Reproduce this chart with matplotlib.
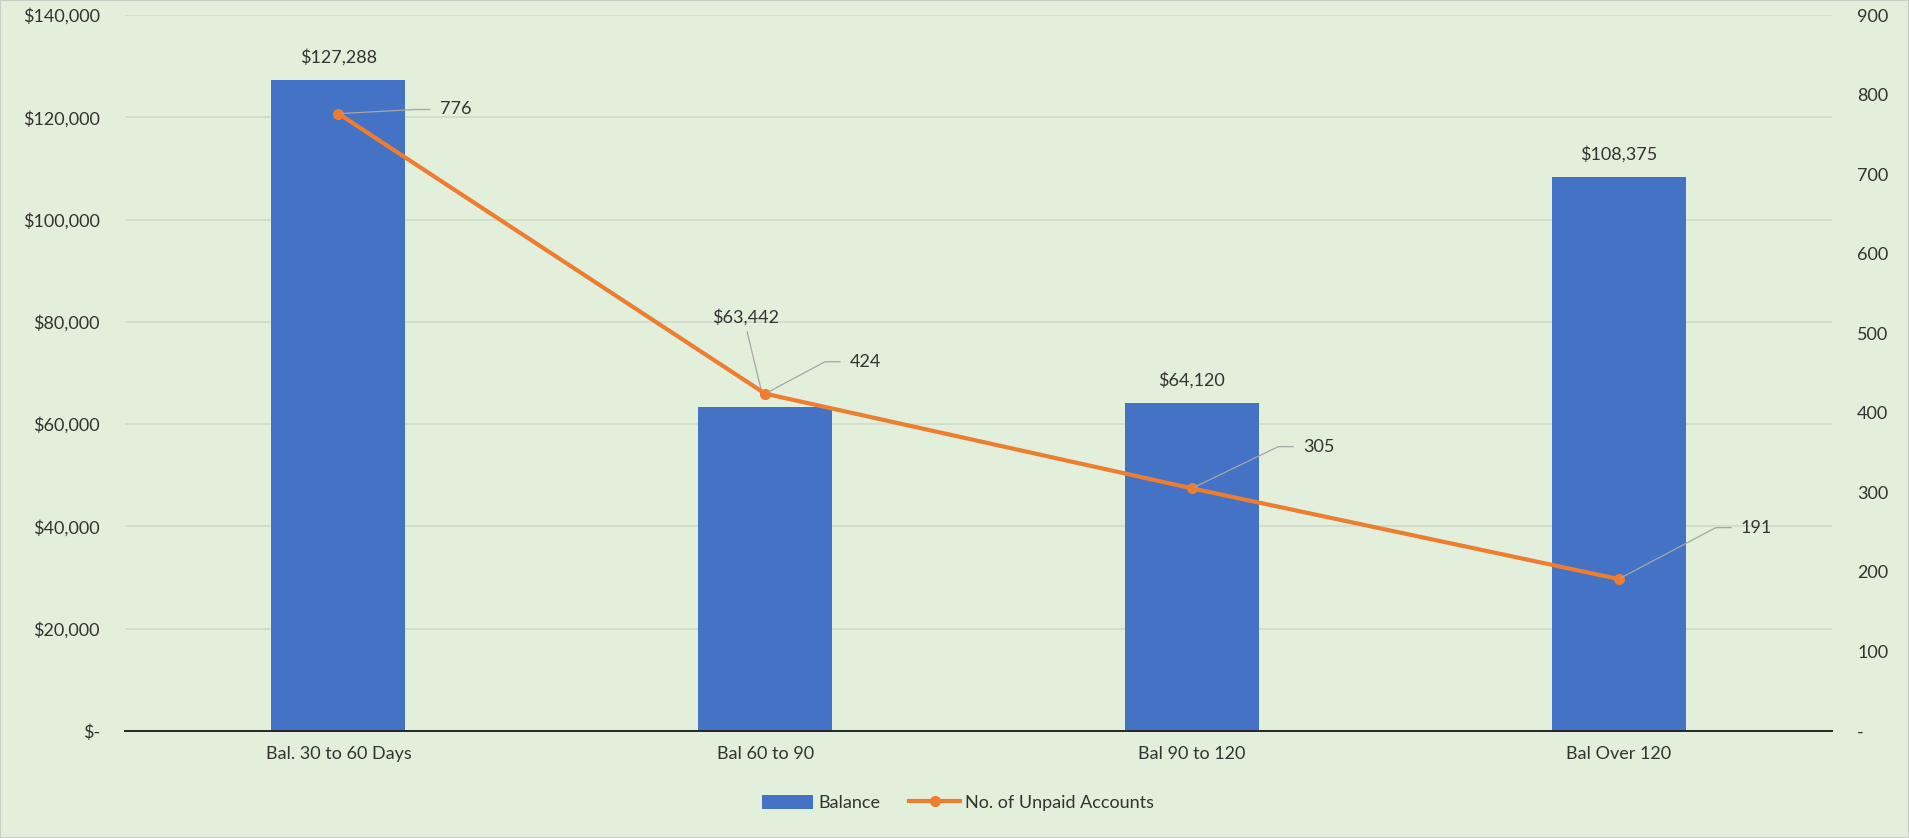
import math
import matplotlib
matplotlib.use("Agg")
import matplotlib.pyplot as plt
from matplotlib.ticker import FuncFormatter
from matplotlib.patches import Rectangle, Patch
from matplotlib.lines import Line2D

# Aged balances and the number of unpaid accounts in each bucket
categories = ["Bal. 30 to 60 Days", "Bal 60 to 90", "Bal 90 to 120", "Bal Over 120"]
balance = [127288, 63442, 64120, 108375]
unpaid_accounts = [776, 424, 305, 191]
balance_ticks = [0, 20000, 40000, 60000, 80000, 100000, 120000, 140000]
account_ticks = [0, 100, 200, 300, 400, 500, 600, 700, 800, 900]

BG = "#E2EFDA"
BAR = "#4472C4"
LINE = "#ED7D31"
TEXT = "#333333"
LEADER = "#A6A6A6"
FS = 13

plt.rcParams["font.family"] = ["Lato", "DejaVu Sans"]

fig = plt.figure(figsize=(19.09, 8.38), dpi=100, facecolor=BG)
ax = fig.add_axes([0.0655, 0.1277, 0.8942, 0.8544])
ax.set_facecolor(BG)

x = list(range(len(categories)))
ax.bar(x, balance, width=0.314, color=BAR, zorder=2)
ax.set_xlim(-0.5, len(categories) - 0.5)
ax.set_ylim(balance_ticks[0], balance_ticks[-1])
ax.set_yticks(balance_ticks)
ax.yaxis.set_major_formatter(
    FuncFormatter(lambda v, p: "$-" if v == 0 else f"${v:,.0f}"))
ax.set_xticks(x, categories)
ax.grid(axis="y", color="#D0DACB", lw=1.2)
ax.set_axisbelow(True)
for side in ("top", "right", "left"):
    ax.spines[side].set_visible(False)
ax.spines["bottom"].set_color("#262626")
ax.spines["bottom"].set_linewidth(1.4)
ax.tick_params(axis="y", length=0, pad=18, labelsize=FS, labelcolor=TEXT)
ax.tick_params(axis="x", length=0, pad=11, labelsize=FS, labelcolor=TEXT)

# Balance labels above bars; the second one is lifted clear of the line
for i, v in enumerate(balance):
    if i == 1:
        ax.annotate(f"${v:,.0f}", xy=(i, v), xytext=(-14, 64),
                    textcoords="offset points", ha="center", va="center",
                    fontsize=FS, color=TEXT, zorder=6,
                    arrowprops=dict(arrowstyle="-", color=LEADER, lw=0.9,
                                    relpos=(0.5, 0.0), shrinkA=2, shrinkB=13))
    else:
        ax.annotate(f"${v:,.0f}", xy=(i, v), xytext=(0, 16.5),
                    textcoords="offset points", ha="center", va="center",
                    fontsize=FS, color=TEXT)

ax2 = ax.twinx()
ax2.plot(x, unpaid_accounts, color=LINE, lw=3, marker="o", ms=7,
         solid_capstyle="round", zorder=3)
ax2.set_ylim(account_ticks[0], account_ticks[-1])
ax2.set_yticks(account_ticks)
ax2.yaxis.set_major_formatter(
    FuncFormatter(lambda v, p: "-" if v == 0 else f"{v:,.0f}"))
for side in ("top", "right", "left", "bottom"):
    ax2.spines[side].set_visible(False)
ax2.tick_params(axis="y", length=0, pad=18, labelsize=FS, labelcolor=TEXT)

# Account counts with callout leaders to the upper right of each point
label_offsets = [(73, 3), (61, 23), (80, 30), (88, 37)]
for i, (v, (dx, dy)) in enumerate(zip(unpaid_accounts, label_offsets)):
    ang = math.degrees(math.atan2(dy, dx - 18))
    ax2.annotate(f"{v:,}", xy=(i, v), xytext=(dx, dy),
                 textcoords="offset points", ha="left", va="center",
                 fontsize=FS, color=TEXT, zorder=6,
                 arrowprops=dict(arrowstyle="-", color=LEADER, lw=0.9,
                                 connectionstyle=f"angle,angleA=0,angleB={ang:.1f},rad=0",
                                 relpos=(0.0, 0.5), shrinkA=5, shrinkB=2))

handles = [Patch(facecolor=BAR, edgecolor="none"),
           Line2D([], [], color=LINE, lw=3, marker="o", ms=7)]
fig.legend(handles, ["Balance", "No. of Unpaid Accounts"], loc="center",
           bbox_to_anchor=(0.502, 0.042), ncol=2, frameon=False, fontsize=FS,
           labelcolor=TEXT, handlelength=2.8, handleheight=0.8,
           handletextpad=0.3, columnspacing=1.6)

fig.add_artist(Rectangle((0, 0), 1, 1, transform=fig.transFigure, fill=False,
                         edgecolor="#C9CFC5", lw=1.5))

fig.savefig("out.png", dpi=100, facecolor=BG)
